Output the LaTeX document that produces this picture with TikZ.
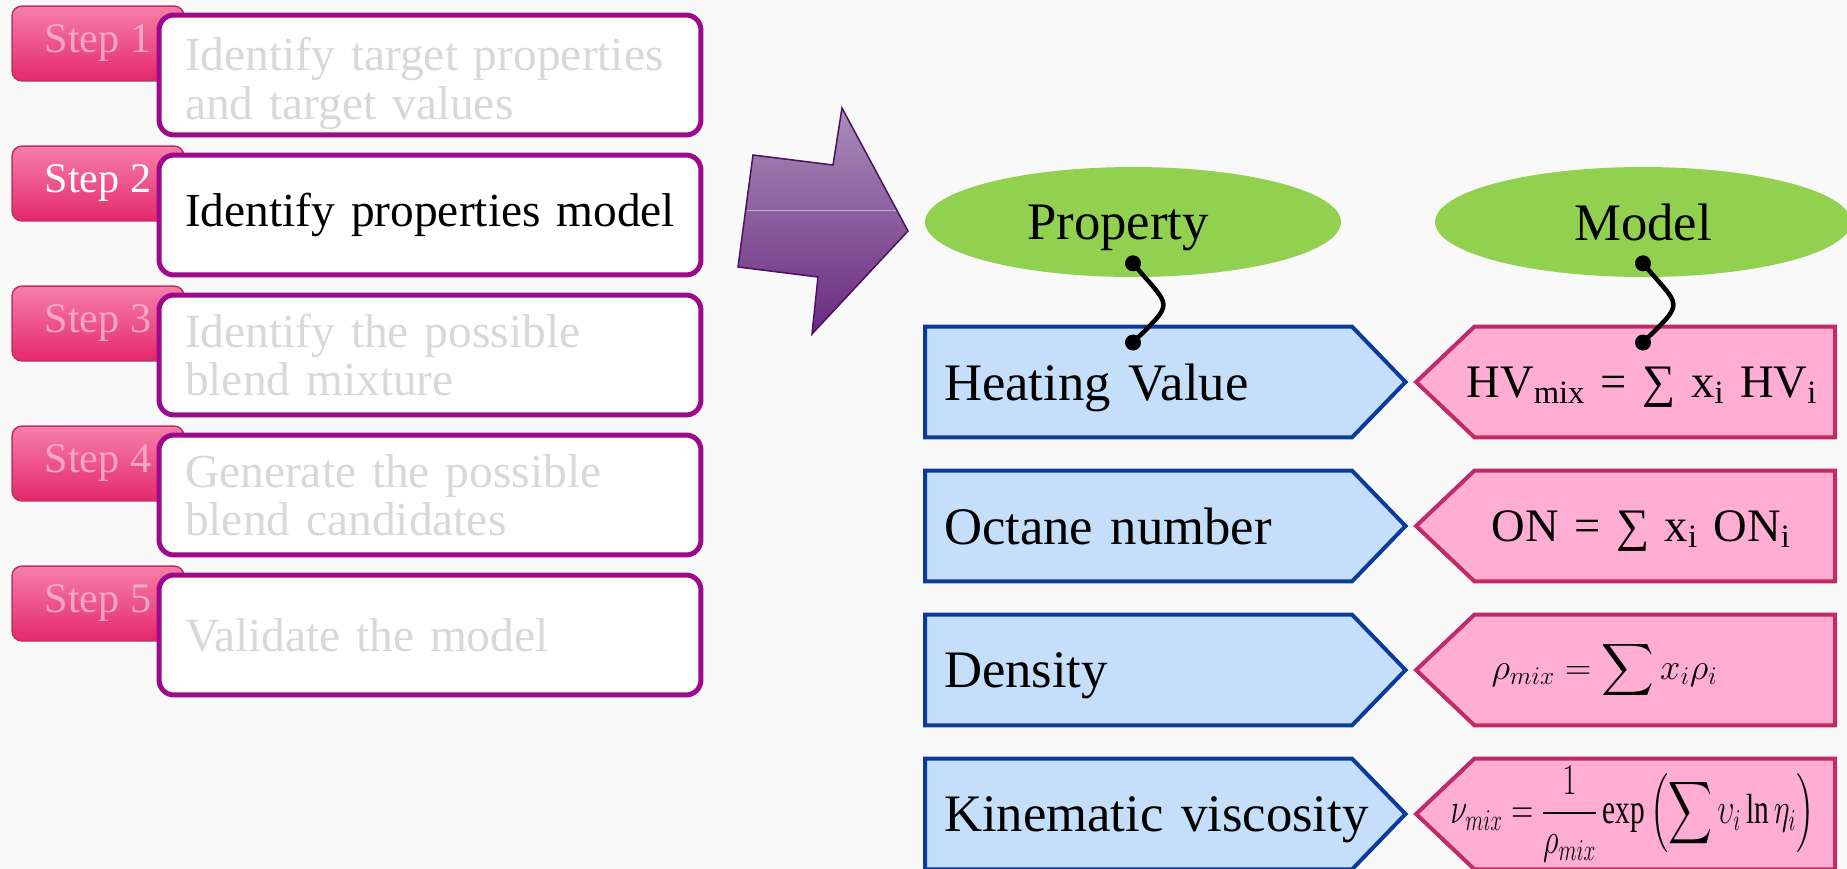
\documentclass[tikz,border=0pt]{standalone}
\usepackage{amsmath}
\usepackage{fontspec}
\setmainfont{Liberation Serif}
\usetikzlibrary{arrows.meta,positioning,calc,shapes.geometric,shapes.symbols}

\definecolor{bgcol}{HTML}{F9F9F9}
\definecolor{tabtop}{HTML}{F67FAA}
\definecolor{tabbot}{HTML}{E4286A}
\definecolor{tabline}{HTML}{C2306C}
\definecolor{tabtext}{HTML}{F7A6C6}
\definecolor{boxline}{HTML}{9C0A8C}
\definecolor{greytext}{HTML}{D8D8D8}
\definecolor{arrowtop}{HTML}{A88EBA}
\definecolor{arrowbot}{HTML}{6A2A80}
\definecolor{arrowline}{HTML}{4C1262}
\definecolor{ellfill}{HTML}{92D050}
\definecolor{propfill}{HTML}{C5DFFB}
\definecolor{propline}{HTML}{0B3C9C}
\definecolor{modfill}{HTML}{FFADD2}
\definecolor{modline}{HTML}{C02A68}

\begin{document}
\begin{tikzpicture}[
    x=0.02cm, y=-0.02cm,
    tab/.style={draw=tabline, line width=0.03cm, rounded corners=0.2cm,
                top color=tabtop, bottom color=tabbot,
                minimum width=3.44cm, minimum height=1.5cm, inner sep=0pt,
                font=\fontsize{24}{28}\selectfont, text=tabtext},
    stepbox/.style={draw=boxline, line width=0.1cm, rounded corners=0.3cm,
                    fill=white, minimum width=10.84cm, minimum height=2.4cm,
                    text width=9.8cm, align=left, inner sep=0pt,
                    font=\fontsize{27}{27.5}\selectfont, text=greytext},
    ell/.style={ellipse, fill=ellfill, minimum width=8.32cm,
                minimum height=2.2cm, inner sep=0pt, text depth=0pt,
                font=\fontsize{30}{34}\selectfont},
    prop/.style={signal, signal to=east, signal pointer angle=92,
                 draw=propline, fill=propfill, line width=0.08cm,
                 minimum height=2.22cm, inner xsep=0.38cm, inner ysep=0pt,
                 text width=7.78cm, align=left, text depth=0pt,
                 font=\fontsize{30}{34}\selectfont},
    model/.style={signal, signal to=west, signal pointer angle=87,
                  draw=modline, fill=modfill, line width=0.08cm,
                  minimum height=2.22cm, inner xsep=0.1cm, inner ysep=0pt,
                  text width=7.01cm, align=left,
                  font=\fontsize{26.5}{30}\selectfont},
    dot/.style={circle, fill=black, minimum size=0.32cm, inner sep=0pt},
    link/.style={line width=0.09cm}
  ]
  \path[use as bounding box, clip] (0,0) rectangle (1847,869);
  \fill[bgcol] (0,0) rectangle (1847,869);

  % steps
  \node[tab] (tab1) at (98,43.5) {Step 1};
  \node[stepbox] (box1) at (430,75)
    {\rule{0pt}{1cm}Identify target properties\\and target values};
  \node[tab, text=white] (tab2) at (98,183.5) {Step 2};
  \node[stepbox, text=black] (box2) at (430,215)
    {\mbox{Identify properties model}};
  \node[tab] (tab3) at (98,323.5) {Step 3};
  \node[stepbox] (box3) at (430,355)
    {Identify the possible\\blend mixture};
  \node[tab] (tab4) at (98,463.5) {Step 4};
  \node[stepbox] (box4) at (430,495)
    {Generate the possible\\blend candidates};
  \node[tab] (tab5) at (98,603.5) {Step 5};
  \node[stepbox] (box5) at (430,635)
    {Validate the model};

  % arrow
  \path[draw=arrowline, line width=0.03cm, top color=arrowtop,
        bottom color=arrowbot]
    (753,155) -- (833,165) -- (842,108) -- (908,231) -- (812,334)
    -- (818,277) -- (738,267) -- cycle;
  \draw[white, opacity=0.5, line width=0.02cm] (747,210) -- (896,210);

  % property / model
  \node[ell] (prop) at (1133,222) {\hspace*{-0.6cm}Property};
  \node[ell] (model) at (1643,222) {Model};

  \node[prop, anchor=west] (hv) at (923,382) {Heating Value};
  \node[model, anchor=east, text depth=0pt] (hvm) at (1837,382)
    {\hspace*{-0.26cm}\mbox{HV\textsubscript{mix} = ∑ x\textsubscript{i}
     HV\textsubscript{i}}};
  \node[prop, anchor=west] (on) at (923,526) {Octane number};
  \node[model, anchor=east, text depth=0pt] (onm) at (1837,526)
    {\hspace*{0.24cm}\mbox{ON = ∑ x\textsubscript{i} ON\textsubscript{i}}};
  \node[prop, anchor=west] (rho) at (923,670) {Density};
  \node[model, anchor=east] (rhom) at (1837,670)
    {\hspace*{0.24cm}\fontsize{22}{26}\selectfont
     $\displaystyle\rho_{mix}=\sum x_i\rho_i$};
  \node[prop, anchor=west] (nu) at (923,814) {\mbox{Kinematic viscosity}};
  \node[model, anchor=east] (num) at (1837,814)
    {\hspace*{-0.58cm}\fontsize{24}{26}\selectfont
     \resizebox*{7.28cm}{\totalheight}{%
     $\displaystyle\nu_{mix}=\frac{1}{\rho_{mix}}
      \exp\left(\sum\upsilon_i\ln\eta_i\right)$}};

  % links
  \node[dot] (pt) at ($(prop.south)+(0,-14)$) {};
  \node[dot] (pb) at ($(pt |- hv.north)+(0,18)$) {};
  \draw[link] (pt.center) .. controls +(-50:1.2cm) and +(45:1.2cm)
    .. (pb.center);
  \node[dot] (mt) at ($(model.south)+(0,-14)$) {};
  \node[dot] (mb) at ($(mt |- hvm.north)+(0,18)$) {};
  \draw[link] (mt.center) .. controls +(-50:1.2cm) and +(45:1.2cm)
    .. (mb.center);
\end{tikzpicture}
\end{document}
